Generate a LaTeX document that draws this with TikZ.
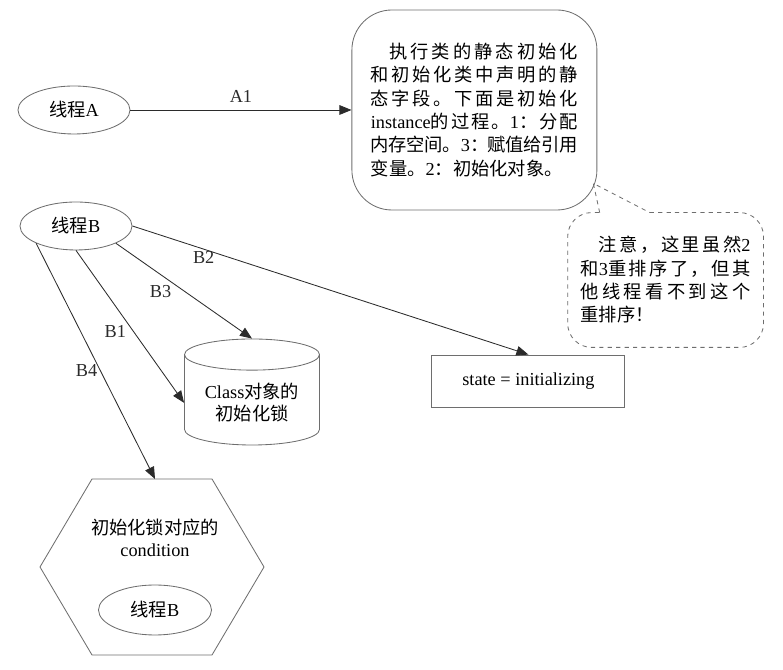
\documentclass[tikz,border=0pt]{standalone}
\usepackage{fontspec}
\setmainfont{Liberation Serif}
\newfontfamily\zh{Noto Sans CJK SC}
\newcommand{\ltn}[1]{{\rmfamily #1}}
% even spacing between CJK characters, so justified lines spread evenly
\XeTeXinterchartokenstate=1
\newXeTeXintercharclass\cjkcls
\count255="3000 \loop\XeTeXcharclass\count255=\cjkcls\ifnum\count255<"303F \advance\count255 by 1 \repeat
\count255="4E00 \loop\XeTeXcharclass\count255=\cjkcls\ifnum\count255<"9FFF \advance\count255 by 1 \repeat
\count255="FF00 \loop\XeTeXcharclass\count255=\cjkcls\ifnum\count255<"FFEF \advance\count255 by 1 \repeat
\XeTeXinterchartoks\cjkcls\cjkcls={\hskip 0pt plus 4pt minus 1pt\relax}
\usetikzlibrary{arrows.meta, positioning, shapes.geometric, calc}
\definecolor{cline}{HTML}{2B2B2B}
\definecolor{cframe}{HTML}{6E6E6E}
\tikzset{
  every picture/.style={font=\fontsize{13}{15.5}\selectfont, line width=0.6pt},
  thread/.style={ellipse, draw=cframe, minimum width=2.8cm, minimum height=1.2cm},
  arrow/.style={-{Triangle[length=3mm, width=2.4mm]}, draw=cline},
  lbl/.style={inner sep=1pt, text=cline},
  para/.style={align=justify, font=\zh\fontsize{13}{16.6}\selectfont},
}

\begin{document}
\begin{tikzpicture}[memo/.style={draw=cframe, rounded corners=1cm, minimum width=6.125cm, minimum height=5cm, para, text width=5.175cm},
  remark/.style={minimum width=4.875cm, minimum height=3.35cm, para, text width=4.25cm},
  lockbox/.style={cylinder, shape border rotate=90, aspect=0.3, draw=cframe, minimum width=3.375cm, minimum height=2.65cm, align=center},
  statebox/.style={draw=cframe, minimum width=4.825cm, minimum height=1.3cm}]
  \useasboundingbox (0,0) rectangle (19.575,16.75);
  % thread A
  \node[thread] (thA) at (1.85, 14.0) {{\zh 线程}A};
  \node[memo] (info) at (11.86, 14.0) {\noindent\hspace*{1em}执行类的静态初始化\linebreak
    和初始化类中声明的静\linebreak
    态字段。下面是初始化\linebreak
    \ltn{instance}的过程。\ltn{1}：分配\linebreak
    内存空间。\ltn{3}：赋值给引用\linebreak
    变量。\ltn{2}：初始化对象。};
  \draw[arrow] (thA) -- node[above, lbl, yshift=4pt] {A1} (info);
  % note
  \node[remark] (note) at (16.64, 9.75) {\noindent\hspace*{1em}注意，这里虽然\ltn{2}\linebreak
    和\ltn{3}重排序了，但其\linebreak
    他线程看不到这个\linebreak
    重排序！};
  \coordinate (tip) at ($(info.south east)+(-0.1,0.675)$);
  \coordinate (b1) at ([xshift=0.8cm]note.north west);
  \coordinate (b2) at ([xshift=2.05cm]note.north west);
  \draw[dashed, draw=cframe, rounded corners=0.6cm] (b2) -- (note.north east) -- (note.south east) -- (note.south west) -- (note.north west) -- (b1);
  \draw[dashed, draw=cframe] (b1) -- (tip) -- (b2);
  % thread B
  \node[thread] (thB) at (1.9, 11.1) {{\zh 线程}B};
  \node[lockbox, anchor=shape center] (cyl) at (6.3, 6.95) {Class{\zh 对象的}\\{\zh 初始化锁}};
  \node[statebox] (state) at (13.21, 7.225) {state = initializing};
  % condition
  \coordinate (hex) at (3.8, 2.575);
  \draw[cframe] ($(hex)+(-2.8,0)$) -- ($(hex)+(-1.5,2.2)$) -- ($(hex)+(1.5,2.2)$) -- ($(hex)+(2.8,0)$)
    -- ($(hex)+(1.5,-2.2)$) -- ($(hex)+(-1.5,-2.2)$) -- cycle;
  \coordinate (hextop) at ($(hex)+(0.075,2.2)$);
  \node[align=center] (cond) at ($(hex)+(0.075,0.72)$) {{\zh 初始化锁对应的}\\condition};
  \node[thread, minimum width=2.825cm, minimum height=1.25cm] (thB2) at ($(hex)+(0.075,-1.075)$) {{\zh 线程}B};
  \draw[arrow] (thB.east) -- node[pos=0.18, below, lbl] {B2} (state.north);
  \draw[arrow] (thB.south east) -- node[pos=0.42, below left, lbl] {B3} (cyl.90);
  \draw[arrow] (thB.south) -- node[pos=0.48, below left, lbl] {B1} (cyl.180);
  \draw[arrow] (thB.south west) -- node[pos=0.53, left, lbl, yshift=-2pt] {B4} (hextop);
\end{tikzpicture}
\end{document}
